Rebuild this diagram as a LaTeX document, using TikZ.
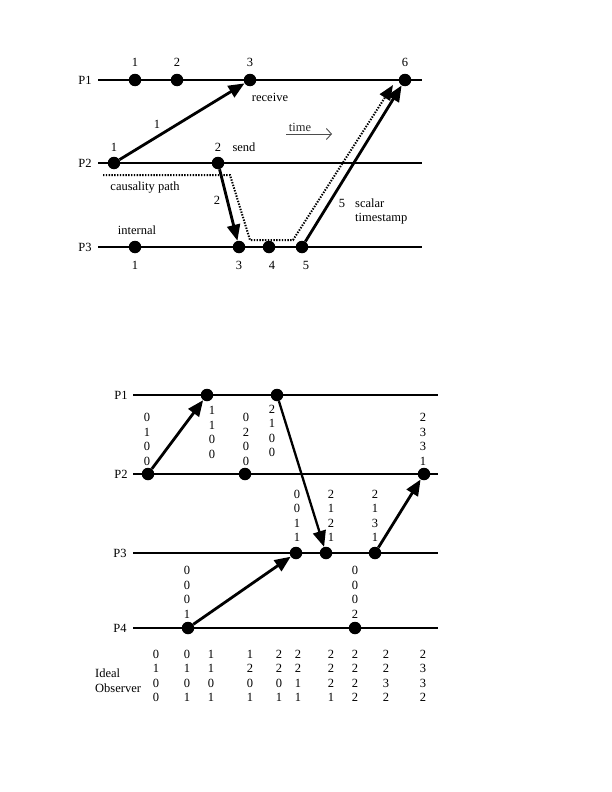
\documentclass[tikz,border=0pt]{standalone}
\usepackage{fontspec}
\setmainfont{Liberation Serif}
\usetikzlibrary{arrows.meta}
\begin{document}
\begin{tikzpicture}[x=1pt,y=-1pt,
  proc/.style={line width=1.7pt},
  ev/.style={circle, fill=black, inner sep=0pt, minimum size=12.5pt},
  msg/.style={line width=2.8pt, -{Triangle[length=16pt,width=13pt]}},
  causal/.style={line width=2pt, dash pattern=on 1.4pt off 1.4pt, -{Triangle[length=15pt,width=12pt]}},
  lbl/.style={font=\fontsize{12.5}{14}\selectfont, inner sep=0pt},
  vec/.style={font=\fontsize{12.5}{14.5}\selectfont, align=center, inner sep=0pt},
  obs/.style={font=\fontsize{12.5}{14.5}\selectfont, align=left, inner sep=0pt, anchor=west}]
\useasboundingbox (0,0) rectangle (612,792);

% ---------------- top diagram ----------------
\coordinate (a1s) at (98,80);  \coordinate (a1e) at (422,80);
\coordinate (a2s) at (98,163); \coordinate (a2e) at (422,163);
\coordinate (a3s) at (98,247); \coordinate (a3e) at (422,247);
\draw[proc] (a1s) -- (a1e);
\draw[proc] (a2s) -- (a2e);
\draw[proc] (a3s) -- (a3e);
\node[lbl] (lp1) at (85,80) {P1};
\node[lbl] (lp2) at (85,163) {P2};
\node[lbl] (lp3) at (85,247) {P3};

\node[ev] (e11) at (135,80) {};
\node[ev] (e12) at (177,80) {};
\node[ev] (e13) at (250,80) {};
\node[ev] (e16) at (405,80) {};
\node[ev] (e21) at (114,163) {};
\node[ev] (e22) at (218,163) {};
\node[ev] (e31) at (135,247) {};
\node[ev] (e33) at (239,247) {};
\node[ev] (e34) at (269,247) {};
\node[ev] (e35) at (302,247) {};

\node[lbl] (n11) at (135,62) {1};
\node[lbl] (n12) at (177,62) {2};
\node[lbl] (n13) at (250,62) {3};
\node[lbl] (n16) at (405,62) {6};
\node[lbl] (n21) at (114,147) {1};
\node[lbl] (n22) at (218,147) {2};
\node[lbl] (send) at (244,147) {send};
\node[lbl] (recv) at (270,97) {receive};
\node[lbl] (n31) at (135,265) {1};
\node[lbl] (n33) at (239,265) {3};
\node[lbl] (n34) at (272,265) {4};
\node[lbl] (n35) at (306,265) {5};
\node[lbl] (internal) at (137,230) {internal};
\node[lbl] (m1) at (157,124) {1};
\node[lbl] (m2) at (217,200) {2};
\node[lbl] (m5) at (342,203) {5};
\node[lbl, anchor=west] (scalar) at (355,203) {scalar};
\node[lbl, anchor=west] (tstamp) at (355,219) {timestamp};
\node[lbl] (cpath) at (145,188) {causality path};

% time arrow
\node[lbl, text=black!85] (time) at (300,127) {time};
\coordinate (t0) at (286,134); \coordinate (t1) at (332,134);
\draw[black!70, line width=0.9pt, -{Straight Barb[length=5pt,width=11pt,line width=0.9pt]}] (t0) -- (t1);

% causality path
\coordinate (c0) at (103,175);
\coordinate (c1) at (230,175);
\coordinate (c2) at (250,240);
\coordinate (c3) at (293,240);
\coordinate (c4) at (393,85);
\draw[causal] (c0) -- (c1) -- (c2) -- (c3) -- (c4);

% messages
\draw[msg] (e21) -- (e13);
\draw[msg] (e22) -- (e33);
\draw[msg] (e35) -- (e16);

% ---------------- bottom diagram ----------------
\coordinate (b1s) at (133,395); \coordinate (b1e) at (438,395);
\coordinate (b2s) at (133,474); \coordinate (b2e) at (438,474);
\coordinate (b3s) at (133,553); \coordinate (b3e) at (438,553);
\coordinate (b4s) at (133,628); \coordinate (b4e) at (438,628);
\draw[proc] (b1s) -- (b1e);
\draw[proc] (b2s) -- (b2e);
\draw[proc] (b3s) -- (b3e);
\draw[proc] (b4s) -- (b4e);
\node[lbl] (q1) at (121,395) {P1};
\node[lbl] (q2) at (121,474) {P2};
\node[lbl] (q3) at (120,553) {P3};
\node[lbl] (q4) at (120,628) {P4};

\node[ev] (f11) at (207,395) {};
\node[ev] (f12) at (277,395) {};
\node[ev] (f21) at (148,474) {};
\node[ev] (f22) at (245,474) {};
\node[ev] (f23) at (424,474) {};
\node[ev] (f31) at (296,553) {};
\node[ev] (f32) at (326,553) {};
\node[ev] (f33) at (375,553) {};
\node[ev] (f41) at (188,628) {};
\node[ev] (f42) at (355,628) {};

\draw[msg] (f21) -- (f11);
\draw[msg, line width=2.3pt] (f12) -- (f32);
\draw[msg] (f41) -- (f31);
\draw[msg] (f33) -- (f23);

\node[vec] (v21) at (147,439.5) {0\\1\\0\\0};
\node[vec] (v11) at (212,432.5) {1\\1\\0\\0};
\node[vec] (v22) at (246,439.5) {0\\2\\0\\0};
\node[vec] (v12) at (272,431) {2\\1\\0\\0};
\node[vec] (v23) at (423,439.5) {2\\3\\3\\1};
\node[vec] (v31) at (297,516) {0\\0\\1\\1};
\node[vec] (v32) at (331,516) {2\\1\\2\\1};
\node[vec] (v33) at (375,516) {2\\1\\3\\1};
\node[vec] (v41) at (187,592.5) {0\\0\\0\\1};
\node[vec] (v42) at (355,592.5) {0\\0\\0\\2};

% ideal observer
\node[obs] (ideal) at (95,680.5) {Ideal\\Observer};
\node[vec] (o1) at (156,676) {0\\1\\0\\0};
\node[vec] (o2) at (187,676) {0\\1\\0\\1};
\node[vec] (o3) at (211,676) {1\\1\\0\\1};
\node[vec] (o4) at (250,676) {1\\2\\0\\1};
\node[vec] (o5) at (279,676) {2\\2\\0\\1};
\node[vec] (o6) at (298,676) {2\\2\\1\\1};
\node[vec] (o7) at (331,676) {2\\2\\2\\1};
\node[vec] (o8) at (355,676) {2\\2\\2\\2};
\node[vec] (o9) at (386,676) {2\\2\\3\\2};
\node[vec] (o10) at (423,676) {2\\3\\3\\2};
\end{tikzpicture}
\end{document}
